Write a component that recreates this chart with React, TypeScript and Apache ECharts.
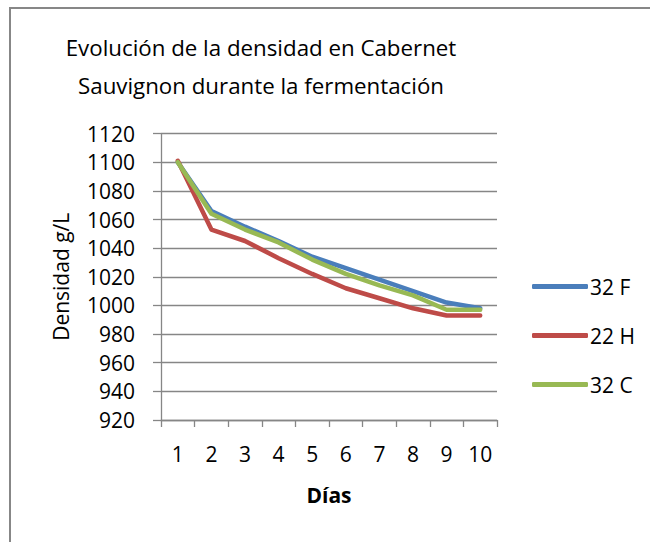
import React, { useEffect, useRef } from "react";
import * as echarts from "echarts";

const days = ["1", "2", "3", "4", "5", "6", "7", "8", "9", "10"];
const serie32F = [1100, 1066, 1055, 1045, 1034, 1026, 1018, 1010, 1002, 998];
const serie22H = [1101, 1053, 1045, 1033, 1022, 1012, 1005, 998, 993, 993];
const serie32C = [1100, 1064, 1053, 1044, 1032, 1022, 1014, 1007, 997, 997];
const seriesNames = ["32 F", "22 H", "32 C"];
const colors = ["#4A7EBB", "#BE4B48", "#98B954"];

const FONT = "'Open Sans', 'Noto Sans', sans-serif";

export default function App() {
  const ref = useRef<HTMLDivElement>(null);
  useEffect(() => {
    if (!ref.current) return;
    const chart = echarts.init(ref.current, null, { renderer: "svg" });
    const values = [serie32F, serie22H, serie32C];
    chart.setOption({
      animation: false,
      backgroundColor: "#ffffff",
      textStyle: { fontFamily: FONT, color: "#000" },
      graphic: [
        {
          type: "rect",
          shape: { x: 10, y: 8, width: 700, height: 600 },
          style: { fill: "none", stroke: "#878787", lineWidth: 2 },
          silent: true,
        },
        {
          type: "text",
          x: 261,
          y: 66,
          style: {
            text: "Evolución de la densidad en Cabernet\nSauvignon durante la fermentación",
            fontFamily: FONT,
            fontSize: 22.3,
            lineHeight: 38,
            fill: "#000",
            align: "center",
            verticalAlign: "middle",
          },
        },
      ],
      grid: { left: 161, right: 153, top: 133.6, bottom: 122 },
      legend: {
        orient: "vertical",
        left: 527,
        top: 271,
        icon: "roundRect",
        itemWidth: 56,
        itemHeight: 5,
        itemGap: 28,
        data: seriesNames,
        textStyle: { fontFamily: FONT, fontSize: 21, color: "#000", lineHeight: 20, padding: [0, 0, 0, -3] },
      },
      xAxis: {
        type: "category",
        data: days,
        boundaryGap: true,
        name: "Días",
        nameLocation: "middle",
        nameGap: 64,
        nameTextStyle: { fontFamily: FONT, fontSize: 21, fontWeight: "bold", color: "#000", verticalAlign: "top" },
        axisLine: { lineStyle: { color: "#868686", width: 1.3 } },
        axisTick: { show: true, length: 7, lineStyle: { color: "#868686", width: 1.3 } },
        axisLabel: { margin: 23, fontFamily: FONT, fontSize: 21, color: "#000" },
        splitLine: { show: false },
      },
      yAxis: {
        type: "value",
        min: 920,
        max: 1120,
        interval: 20,
        name: "Densidad g/L",
        nameLocation: "middle",
        nameGap: 90,
        nameRotate: 90,
        nameTextStyle: { fontFamily: FONT, fontSize: 21, color: "#000" },
        axisLine: { show: true, lineStyle: { color: "#868686", width: 1.3 } },
        axisTick: { show: true, length: 8, lineStyle: { color: "#868686", width: 1.3 } },
        axisLabel: {
          margin: 26,
          fontFamily: FONT,
          fontSize: 21,
          color: "#000",
          formatter: (v: number) => String(v),
        },
        splitLine: { show: true, lineStyle: { color: "#868686", width: 1.3 } },
      },
      series: seriesNames.map((name, i) => ({
        name,
        type: "line",
        data: values[i],
        showSymbol: false,
        symbol: "none",
        color: colors[i],
        lineStyle: { width: 4.5, color: colors[i], cap: "round", join: "round" },
        z: 2 + i,
      })),
    });
    return () => chart.dispose();
  }, []);
  return (
    <div
      ref={ref}
      style={{ position: "fixed", left: 0, top: 0, width: 650, height: 542 }}
    />
  );
}
